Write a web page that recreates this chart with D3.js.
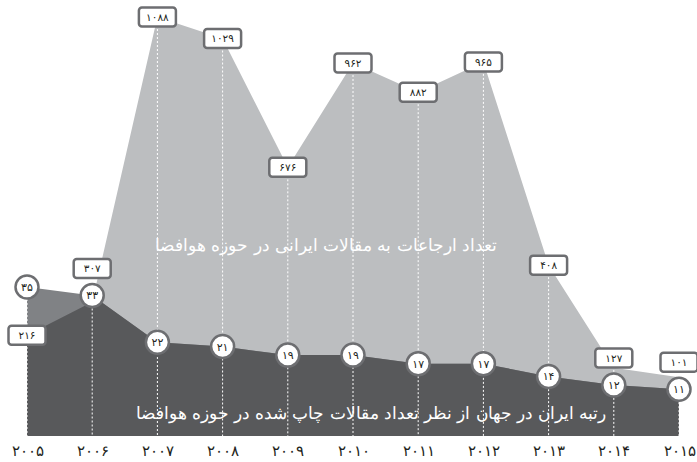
<!DOCTYPE html>
<html>
<head>
<meta charset="utf-8">
<script src="https://cdn.jsdelivr.net/npm/d3@7"></script>
<style>
  html, body { margin: 0; padding: 0; background: #ffffff; }
  svg { display: block; font-family: "DejaVu Sans", sans-serif; }
</style>
</head>
<body>
<svg id="chart" width="697" height="462"></svg>
<script>
// Years on the horizontal axis
const years = [2005, 2006, 2007, 2008, 2009, 2010, 2011, 2012, 2013, 2014, 2015];
// Citations to Iranian aerospace papers
const citations = [216, 307, 1088, 1029, 676, 962, 882, 965, 408, 127, 101];
// Iran's world rank by number of published aerospace papers
const ranks = [35, 33, 22, 21, 19, 19, 17, 17, 14, 12, 11];

const citationTitle = "تعداد ارجاعات به مقالات ایرانی در حوزه هوافضا";
const rankTitle = "رتبه ایران در جهان از نظر تعداد مقالات چاپ شده در حوزه هوافضا";

const faDigits = "۰۱۲۳۴۵۶۷۸۹";
const fa = n => String(n).replace(/\d/g, d => faDigits[+d]);

const baseline = 436;

const svg = d3.select("#chart");

const x = d3.scaleLinear().domain([2005, 2015]).range([27, 679]);
const yC = d3.scaleLinear().domain([0, 1088]).range([414, 17]);
const yR = d3.scaleLinear().domain([0, 35]).range([baseline, 287]);

const rows = years.map((yr, i) => ({ yr, c: citations[i], r: ranks[i] }));

const citeArea = d3.area().x(d => x(d.yr)).y0(baseline).y1(d => yC(d.c));
const rankArea = d3.area().x(d => x(d.yr)).y0(baseline).y1(d => yR(d.r));

// citations area
svg.append("path").datum(rows).attr("d", citeArea).attr("fill", "#bcbec0");
// rank area where it rises above the citations area
svg.append("path").datum(rows).attr("d", rankArea).attr("fill", "#808285");
// overlap of both areas
svg.append("clipPath").attr("id", "citeClip")
  .append("path").datum(rows).attr("d", citeArea);
svg.append("path").datum(rows).attr("d", rankArea)
  .attr("fill", "#58595b").attr("clip-path", "url(#citeClip)");

// label position for each citation value, lifted above the rank marker when they would touch
const labelY = d => {
  const yc = yC(d.c), yr = yR(d.r);
  return Math.abs(yc - yr) < 24 ? yr - 27 : yc;
};

// dotted guides
svg.append("g").selectAll("line").data(rows).join("line")
  .attr("x1", d => x(d.yr)).attr("x2", d => x(d.yr))
  .attr("y1", d => Math.min(labelY(d), yR(d.r)))
  .attr("y2", baseline)
  .attr("stroke", "#ffffff").attr("stroke-width", 1)
  .attr("stroke-dasharray", "2,2");

// series titles
svg.append("text").attr("x", 326).attr("y", 251)
  .attr("text-anchor", "middle").attr("direction", "rtl")
  .attr("fill", "#ffffff").attr("font-size", 16.5).attr("font-weight", 300)
  .text(citationTitle);
svg.append("text").attr("x", 371).attr("y", 419)
  .attr("text-anchor", "middle").attr("direction", "rtl")
  .attr("fill", "#ffffff").attr("font-size", 16.5).attr("font-weight", 300)
  .text(rankTitle);

// rank markers
const rg = svg.append("g").selectAll("g").data(rows).join("g")
  .attr("transform", d => `translate(${x(d.yr)},${yR(d.r)})`);
rg.append("circle").attr("r", 11.5)
  .attr("fill", "#ffffff").attr("stroke", "#6d6e71").attr("stroke-width", 2.5);
rg.append("text").attr("text-anchor", "middle").attr("dy", "0.36em")
  .attr("font-size", 11).attr("fill", "#231f20")
  .text(d => fa(d.r));

// citation labels
const cg = svg.append("g").selectAll("g").data(rows).join("g")
  .attr("transform", d => `translate(${x(d.yr)},${labelY(d)})`);
cg.append("rect").attr("x", -18.5).attr("y", -9.5).attr("width", 37).attr("height", 19)
  .attr("rx", 3).attr("fill", "#ffffff").attr("stroke", "#6d6e71").attr("stroke-width", 2.5);
cg.append("text").attr("text-anchor", "middle").attr("dy", "0.36em")
  .attr("font-size", 10.5).attr("fill", "#231f20")
  .text(d => fa(d.c));

// year axis
const axis = svg.append("g").attr("transform", `translate(0,${baseline})`)
  .call(d3.axisBottom(x).tickValues(years).tickFormat(fa).tickSize(0).tickPadding(9));
axis.select(".domain").remove();
axis.selectAll("text").attr("font-size", 15).attr("fill", "#231f20")
  .attr("font-weight", 300)
  .attr("font-family", "DejaVu Sans, sans-serif");
</script>
</body>
</html>
